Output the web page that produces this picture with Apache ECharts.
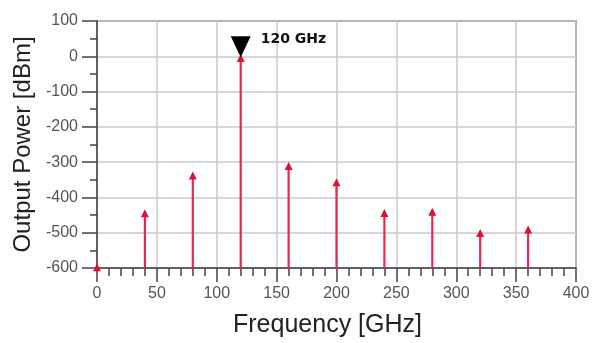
<!DOCTYPE html>
<html>
<head>
<meta charset="utf-8">
<script src="https://cdn.jsdelivr.net/npm/echarts@6/dist/echarts.min.js"></script>
<style>html,body{margin:0;padding:0;background:#fff}#c{width:598px;height:343px}</style>
</head>
<body>
<div id="c"></div>
<script>
var frequencies = [0, 40, 80, 120, 160, 200, 240, 280, 320, 360];
var powers = [-595, -442, -335, -2, -308, -354, -441, -438, -498, -488];
var baseLevel = -600;
var markerFreq = 120;
var markerPower = 0;
var markerText = '120 GHz';

var chart = echarts.init(document.getElementById('c'), null, {renderer: 'canvas'});
var stemColor = '#e6284f';
var headColor = '#e0102e';
var data = frequencies.map(function (f, i) { return [f, powers[i]]; });

chart.setOption({
  animation: false,
  grid: {left: 97, right: 22, top: 21, bottom: 74, show: true, borderColor: '#555', borderWidth: 1.5},
  xAxis: {
    type: 'value', min: 0, max: 400, interval: 50,
    name: 'Frequency [GHz]', nameLocation: 'middle', nameGap: 45,
    nameTextStyle: {fontFamily: 'Liberation Sans', fontSize: 25, color: '#222', padding: [0, 18, 0, 0]},
    axisLine: {onZero: false, lineStyle: {color: '#444', width: 1.5}},
    axisTick: {show: true, length: 14, lineStyle: {color: '#444', width: 1.5}},
    minorTick: {show: true, splitNumber: 5, length: 8, lineStyle: {color: '#444', width: 1.5}},
    axisLabel: {margin: 18, fontFamily: 'Liberation Sans', fontSize: 16, color: '#555'},
    splitLine: {show: true, lineStyle: {color: '#cacaca', width: 1.5}}
  },
  yAxis: {
    type: 'value', min: -600, max: 100, interval: 100,
    name: 'Output Power [dBm]', nameLocation: 'middle', nameGap: 60,
    nameTextStyle: {fontFamily: 'Liberation Sans', fontSize: 24, color: '#222'},
    axisLine: {show: true, onZero: false, lineStyle: {color: '#444', width: 1.5}},
    axisTick: {show: true, length: 15, lineStyle: {color: '#444', width: 1.5}},
    minorTick: {show: true, splitNumber: 2, length: 7, lineStyle: {color: '#444', width: 1.5}},
    axisLabel: {margin: 19, fontFamily: 'Liberation Sans', fontSize: 16, color: '#555'},
    splitLine: {show: true, lineStyle: {color: '#cacaca', width: 1.5}}
  },
  series: [
    {
      type: 'custom',
      data: data,
      clip: false,
      renderItem: function (params, api) {
        var f = api.value(0), p = api.value(1);
        var top = api.coord([f, p]);
        var bot = api.coord([f, baseLevel]);
        return {
          type: 'group',
          children: [
            {type: 'line', shape: {x1: top[0], y1: top[1] + 3, x2: bot[0], y2: bot[1]}, style: {stroke: stemColor, lineWidth: 2.2}},
            {type: 'polygon', shape: {points: [[top[0], top[1] - 3], [top[0] - 4, top[1] + 5], [top[0] + 4, top[1] + 5]]}, style: {fill: headColor}}
          ]
        };
      }
    },
    {
      type: 'custom',
      data: [[markerFreq, markerPower]],
      clip: false,
      renderItem: function (params, api) {
        var pt = api.coord([api.value(0), api.value(1)]);
        return {
          type: 'group',
          children: [
            {type: 'polygon', shape: {points: [[pt[0], pt[1] + 1], [pt[0] - 10, pt[1] - 20], [pt[0] + 10, pt[1] - 20]]}, style: {fill: '#000'}},
            {type: 'text', style: {x: pt[0] + 20, y: pt[1] - 17, text: markerText, fill: '#111', font: 'bold 14px "DejaVu Sans"', textVerticalAlign: 'middle', verticalAlign: 'middle'}}
          ]
        };
      }
    }
  ]
});
</script>
</body>
</html>
